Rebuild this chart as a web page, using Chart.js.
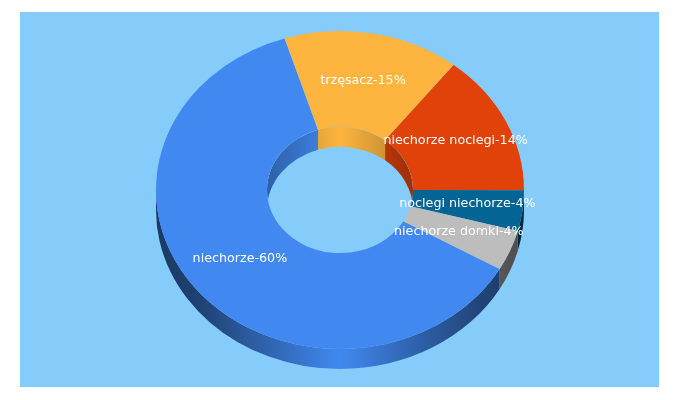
<!DOCTYPE html>
<html>
<head>
<meta charset="utf-8">
<style>html,body{margin:0;padding:0;background:#fff}canvas{display:block}</style>
<script src="https://cdn.jsdelivr.net/npm/chart.js@4"></script>
</head>
<body>
<canvas id="c" width="680" height="400"></canvas>
<script>
const categories = ['niechorze', 'trzęsacz', 'niechorze noclegi', 'noclegi niechorze', 'niechorze domki'];
const shares = [60, 15, 14, 4, 4];
const sliceColors = [[65,137,240],[253,181,63],[224,66,10],[4,100,147],[189,189,189]];

const TILT = 0.864, DEPTH = 20;
const css = (c, f) => `rgb(${c.map(v => Math.round(v * f)).join(',')})`;

function wallGradient(ctx, arc, r, c, stops) {
  const g = ctx.createLinearGradient(arc.x - r, 0, arc.x + r, 0);
  stops.forEach(([p, f]) => g.addColorStop(p, css(c, f)));
  return g;
}
function drawWall(ctx, arc, r, lo, c, stops) {
  const TAU = Math.PI * 2;
  for (let k = -1; k < 3; k++) {
    const a0 = Math.max(arc.startAngle, lo + TAU * k);
    const a1 = Math.min(arc.endAngle, lo + Math.PI + TAU * k);
    if (a1 <= a0) continue;
    ctx.beginPath();
    ctx.ellipse(arc.x, arc.y, r, r * TILT, 0, a0, a1);
    ctx.ellipse(arc.x, arc.y + DEPTH, r, r * TILT, 0, a1, a0, true);
    ctx.closePath();
    ctx.fillStyle = wallGradient(ctx, arc, r, c, stops);
    ctx.fill();
  }
}
const outerStops = [[0,0.42],[0.12,0.48],[0.25,0.66],[0.37,0.82],[0.5,1],[0.63,0.82],[0.75,0.66],[0.88,0.5],[1,0.4]];
const innerStops = [[0,0.7],[0.5,1],[1,0.7]];

const pie3d = {
  id: 'pie3d',
  beforeDraw(chart) {
    const ctx = chart.ctx;
    ctx.save();
    ctx.fillStyle = '#86CCFB';
    ctx.fillRect(20, 12, 639, 375);
    ctx.restore();
  },
  beforeDatasetsDraw(chart) {
    const ctx = chart.ctx, arcs = chart.getDatasetMeta(0).data;
    ctx.save();
    arcs.forEach((a, i) => drawWall(ctx, a, a.outerRadius, 0, sliceColors[i], outerStops));
    const a0 = arcs[0];
    ctx.beginPath();
    ctx.ellipse(a0.x, a0.y, a0.innerRadius, a0.innerRadius * TILT, 0, 0, Math.PI * 2);
    ctx.clip();
    arcs.forEach((a, i) => drawWall(ctx, a, a.innerRadius, Math.PI, sliceColors[i], innerStops));
    ctx.restore();
    ctx.save();
    ctx.translate(a0.x, a0.y);
    ctx.scale(1, TILT);
    ctx.translate(-a0.x, -a0.y);
  },
  afterDatasetsDraw(chart) {
    const ctx = chart.ctx, arcs = chart.getDatasetMeta(0).data;
    ctx.restore();
    ctx.save();
    ctx.font = '12.7px "DejaVu Sans"';
    ctx.fillStyle = '#fff';
    ctx.textAlign = 'center';
    ctx.textBaseline = 'middle';
    arcs.forEach((a, i) => {
      const p = a.getCenterPoint();
      ctx.fillText(`${categories[i]}-${shares[i]}%`, p.x, a.y + (p.y - a.y) * TILT - 0.5);
    });
    ctx.restore();
  }
};

new Chart(document.getElementById('c'), {
  type: 'doughnut',
  data: {
    labels: categories,
    datasets: [{
      data: shares,
      backgroundColor: sliceColors.map(c => css(c, 1)),
      borderWidth: 0,
      clip: false
    }]
  },
  options: {
    responsive: false,
    animation: false,
    events: [],
    rotation: 119.8,
    radius: 184,
    cutout: '39.7%',
    layout: { padding: { bottom: 20 } },
    plugins: { legend: { display: false }, tooltip: { enabled: false } }
  },
  plugins: [pie3d]
});
</script>
</body>
</html>
